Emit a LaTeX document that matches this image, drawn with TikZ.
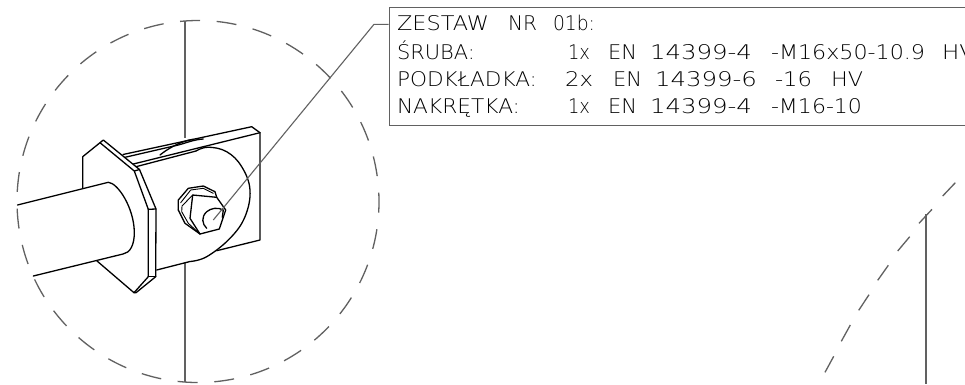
\documentclass[tikz,border=0pt]{standalone}
\usepackage{fontspec}
\usepackage{graphicx}
\setmainfont{DejaVu Sans ExtraLight}
\usetikzlibrary{calc}
\definecolor{cadgray}{gray}{0.38}
\tikzset{
  part/.style={black,line width=1.3pt,line join=round,line cap=round},
  thinpart/.style={black,line width=0.9pt,line join=round,line cap=round},
  axisline/.style={cadgray,line width=1.4pt},
  phantomline/.style={cadgray,line width=1.3pt},
  leader/.style={cadgray,line width=1.1pt},
  word/.style={anchor=base west,inner sep=0pt,outer sep=0pt,text=black,font=\fontsize{20.2pt}{21pt}\selectfont},
  framebox/.style={draw=cadgray,line width=1.4pt,fill=none,anchor=north west,minimum width=660pt,minimum height=118.5pt,inner sep=0pt}
}
\newcommand{\cadword}[5]{\node[word] (#1) at (#2,#3) {\resizebox{#4pt}{\height}{#5}};}
\begin{document}
\begin{tikzpicture}[x=1pt,y=-1pt]
\useasboundingbox (0,0) rectangle (965,384);
\clip (0,0) rectangle (965,384);
\fill[white] (0,0) rectangle (965,384);

% detail circle
\coordinate (C) at (198,201.5);
\draw[phantomline,dash pattern=on 20pt off 16.69pt] ($(C)+(264.3:181)$) arc[start angle=264.3,end angle=624.3,radius=181];

% second detail arc
\foreach \ax/\ay/\bx/\by in {955.3/182.7/942.7/196,932/209.3/919/223.3,909.7/236.7/897.7/251,888.3/265.3/877.7/280.3,869/294.7/858.7/310.3,850.3/325/841.3/341.3,833.7/356.3/825/372.3}
  \draw[phantomline] (\ax,\ay) -- (\bx,\by);

% pole lines
\coordinate (poleTop) at (185,20.5);
\coordinate (poleMidA) at (185,138);
\coordinate (poleMidB) at (185,263);
\coordinate (poleEnd) at (185,382);
\draw[axisline] (poleTop) -- (poleMidA);
\draw[axisline] (poleMidB) -- (poleEnd);
\coordinate (poleTwoTop) at (926,214);
\coordinate (poleTwoEnd) at (926,384);
\draw[axisline] (poleTwoTop) -- (poleTwoEnd);

% tube
\draw[part] (17.5,205) -- (108.3,182.3) .. controls (118,183) and (134,208) .. (134.3,232) .. controls (134.5,245) and (130,253) .. (123,254) -- (33.3,276);

% flange
\draw[part] (82.7,188) -- (82.7,156.7) -- (100,142.7) -- (103.3,140) -- (139.5,169.5) -- (156,209) -- (155.7,276.7) -- (136,292.7) -- (134,292.7) -- (96.7,260.7);
\draw[part] (100,142.7) -- (134.3,171) -- (148.3,209.3) -- (148.3,276.7) -- (134,292.7);
\draw[part] (134.3,171) -- (139.5,169.5);
\draw[part] (148.3,209.3) -- (156,209);
\draw[part] (148.3,276.7) -- (155.7,276.7);

% plate
\draw[part] (123,154.5) -- (251.7,126.7) -- (260,132.7) -- (260,240) -- (216.7,250.7);
\draw[part] (125,157.3) -- (178.3,145) .. controls (186,143) and (194,139.5) .. (203.3,139);
\draw[part] (133.3,164) -- (260,132.7);
\draw[part] (136,166.7) -- (196,151);
\draw[part] plot[smooth,tension=0.65] coordinates {(196,151) (208,147.2) (226.7,151.7) (241.7,166.7) (250,190) (245,216.7) (230,238.3) (206.7,256.7) (190,261.5)};
\draw[part] (190,261.5) -- (156.7,270);
\draw[part] (160,155) .. controls (166,150) and (180,141) .. (193.3,139.3);

% nut
\draw[part] (192.7,195) -- (216.7,197.3) -- (225.7,210) -- (219.3,229) -- (200,234) -- (190,218.3) -- cycle;
\draw[part] (178.3,210) -- (178.3,200) -- (188.3,188.3) -- (203.3,186) -- (215,191.7) -- (216.7,197.3);
\draw[thinpart] (180.7,202.7) -- (190.7,190) -- (203.3,188.3) -- (213.3,193.3);
\draw[thinpart] (192.7,195) -- (182,206) -- (181.7,211.7) -- (188.3,223.3) -- (200,234);
\draw[part] (178.3,210) -- (185,223.3) -- (200,234);
\draw[part] (206.7,228.3) .. controls (202,224) and (201,217) .. (206.7,211.7) .. controls (211,208) and (218,207) .. (223.3,210) -- (222.3,217.3);

% information box
\node[framebox] (infobox) at (388.7,6.5) {};
\coordinate (boxPort) at (388.7,24.3);
\coordinate (knee) at (374,24.3);
\coordinate (bolt) at (213.3,220);
\draw[leader] (boxPort) -- (knee) -- (bolt);

% texts
\cadword{a1}{397}{30}{92}{ZESTAW}
\cadword{a2}{508}{30}{29}{NR}
\cadword{a3}{553}{30}{42}{01b:}
\cadword{b1}{397}{59.3}{78}{ŚRUBA:}
\cadword{b2}{568}{59.3}{22}{1x}
\cadword{b3}{608}{59.3}{29}{EN}
\cadword{b4}{650}{59.3}{102}{14399-4}
\cadword{b5}{771}{59.3}{154}{-M16x50-10.9}
\cadword{b6}{942}{59.3}{33}{HV}
\cadword{c1}{397}{86.7}{140}{PODKŁADKA:}
\cadword{c2}{565}{86.7}{28}{2x}
\cadword{c3}{613}{86.7}{29}{EN}
\cadword{c4}{655}{86.7}{102}{14399-6}
\cadword{c5}{775}{86.7}{37}{-16}
\cadword{c6}{831}{86.7}{32}{HV}
\cadword{d1}{397}{113.3}{123}{NAKRĘTKA:}
\cadword{d2}{568}{113.3}{22}{1x}
\cadword{d3}{608}{113.3}{29}{EN}
\cadword{d4}{650}{113.3}{102}{14399-4}
\cadword{d5}{771}{113.3}{91}{-M16-10}
\end{tikzpicture}
\end{document}
